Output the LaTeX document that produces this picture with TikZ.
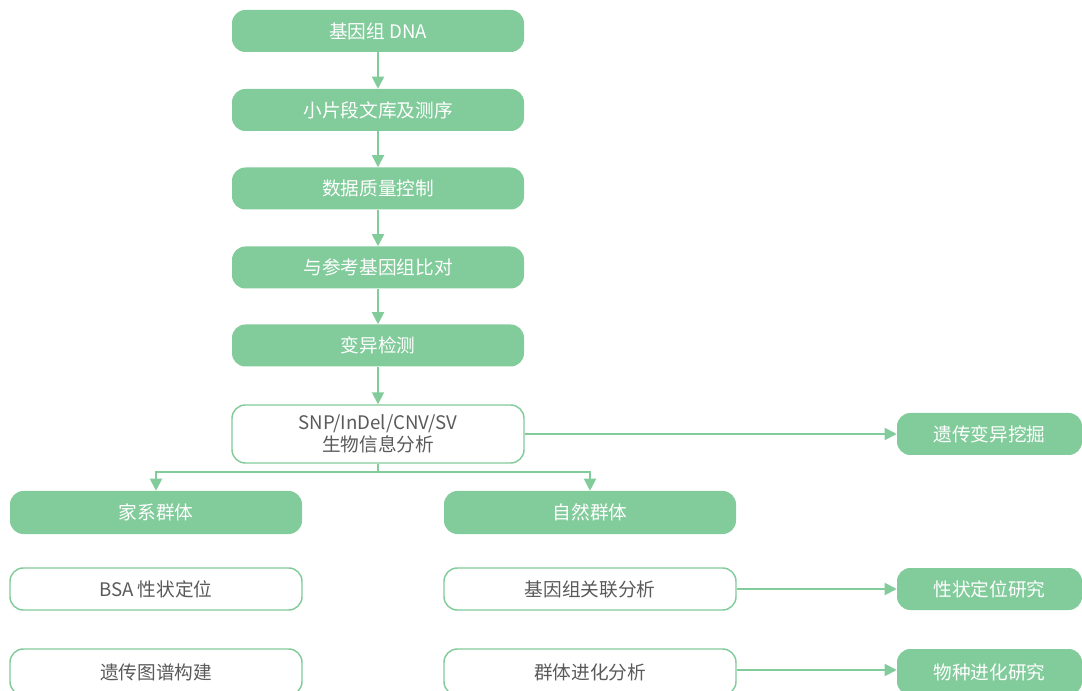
\documentclass[tikz,border=0pt]{standalone}
\usepackage{fontspec}
\setmainfont{Noto Sans CJK SC}
\usetikzlibrary{arrows.meta}
\definecolor{gr}{HTML}{82CB9B}
\definecolor{tx}{HTML}{5A5A5A}
\tikzset{
  fbox/.style={draw=none, fill=gr, rounded corners=10, text=white, font=\fontsize{14}{16}\selectfont},
  wbox/.style={draw=gr, line width=1.1pt, fill=white, rounded corners=10, text=tx, font=\fontsize{14}{16}\selectfont, align=center},
  conn/.style={draw=gr, line width=1.4pt},
  arr/.style={conn, -{Triangle[length=9pt,width=9pt]}}
}
\begin{document}
\begin{tikzpicture}[x=0.75pt,y=-0.75pt]
\useasboundingbox (0,0) rectangle (1082,691);
\clip (0,0) rectangle (1082,691);
% top column
\node[fbox, minimum width=292*0.75pt, minimum height=42*0.75pt] (a) at (378,31) {基因组 DNA};
\node[fbox, minimum width=292*0.75pt, minimum height=42*0.75pt] (b) at (378,110) {小片段文库及测序};
\node[fbox, minimum width=292*0.75pt, minimum height=42*0.75pt] (c) at (378,188.5) {数据质量控制};
\node[fbox, minimum width=292*0.75pt, minimum height=42*0.75pt] (d) at (378,267.5) {与参考基因组比对};
\node[fbox, minimum width=292*0.75pt, minimum height=42*0.75pt] (e) at (378,345.5) {变异检测};
\node[wbox, minimum width=292*0.75pt, minimum height=58*0.75pt, inner sep=1pt] (f) at (378,434) {SNP/InDel/CNV/SV\\[1pt]生物信息分析};
\node[fbox, minimum width=185*0.75pt, minimum height=42*0.75pt] (g) at (989.5,434) {遗传变异挖掘};
% populations
\node[fbox, minimum width=292*0.75pt, minimum height=43*0.75pt] (h) at (156,512.5) {家系群体};
\node[fbox, minimum width=292*0.75pt, minimum height=43*0.75pt] (i) at (590,512.5) {自然群体};
\node[wbox, minimum width=292*0.75pt, minimum height=42*0.75pt] (j) at (156,589) {BSA 性状定位};
\node[wbox, minimum width=292*0.75pt, minimum height=46*0.75pt] (k) at (156,672) {遗传图谱构建};
\node[wbox, minimum width=292*0.75pt, minimum height=42*0.75pt] (l) at (590,589) {基因组关联分析};
\node[wbox, minimum width=292*0.75pt, minimum height=46*0.75pt] (m) at (590,672) {群体进化分析};
\node[fbox, minimum width=185*0.75pt, minimum height=42*0.75pt] (n) at (989.5,589) {性状定位研究};
\node[fbox, minimum width=185*0.75pt, minimum height=46*0.75pt] (o) at (989.5,672) {物种进化研究};
% connectors
\draw[arr] (a) -- (b);
\draw[arr] (b) -- (c);
\draw[arr] (c) -- (d);
\draw[arr] (d) -- (e);
\draw[arr] (e) -- (f);
\draw[arr] (f) -- (g);
\coordinate (br) at (378,472);
\draw[conn] (f.south) -- (br);
\draw[arr] (br) -| (h.north);
\draw[arr] (br) -| (i.north);
\draw[arr] (l) -- (n);
\draw[arr] (m.east |- 0,670) -- (o.west |- 0,670);
\end{tikzpicture}
\end{document}
